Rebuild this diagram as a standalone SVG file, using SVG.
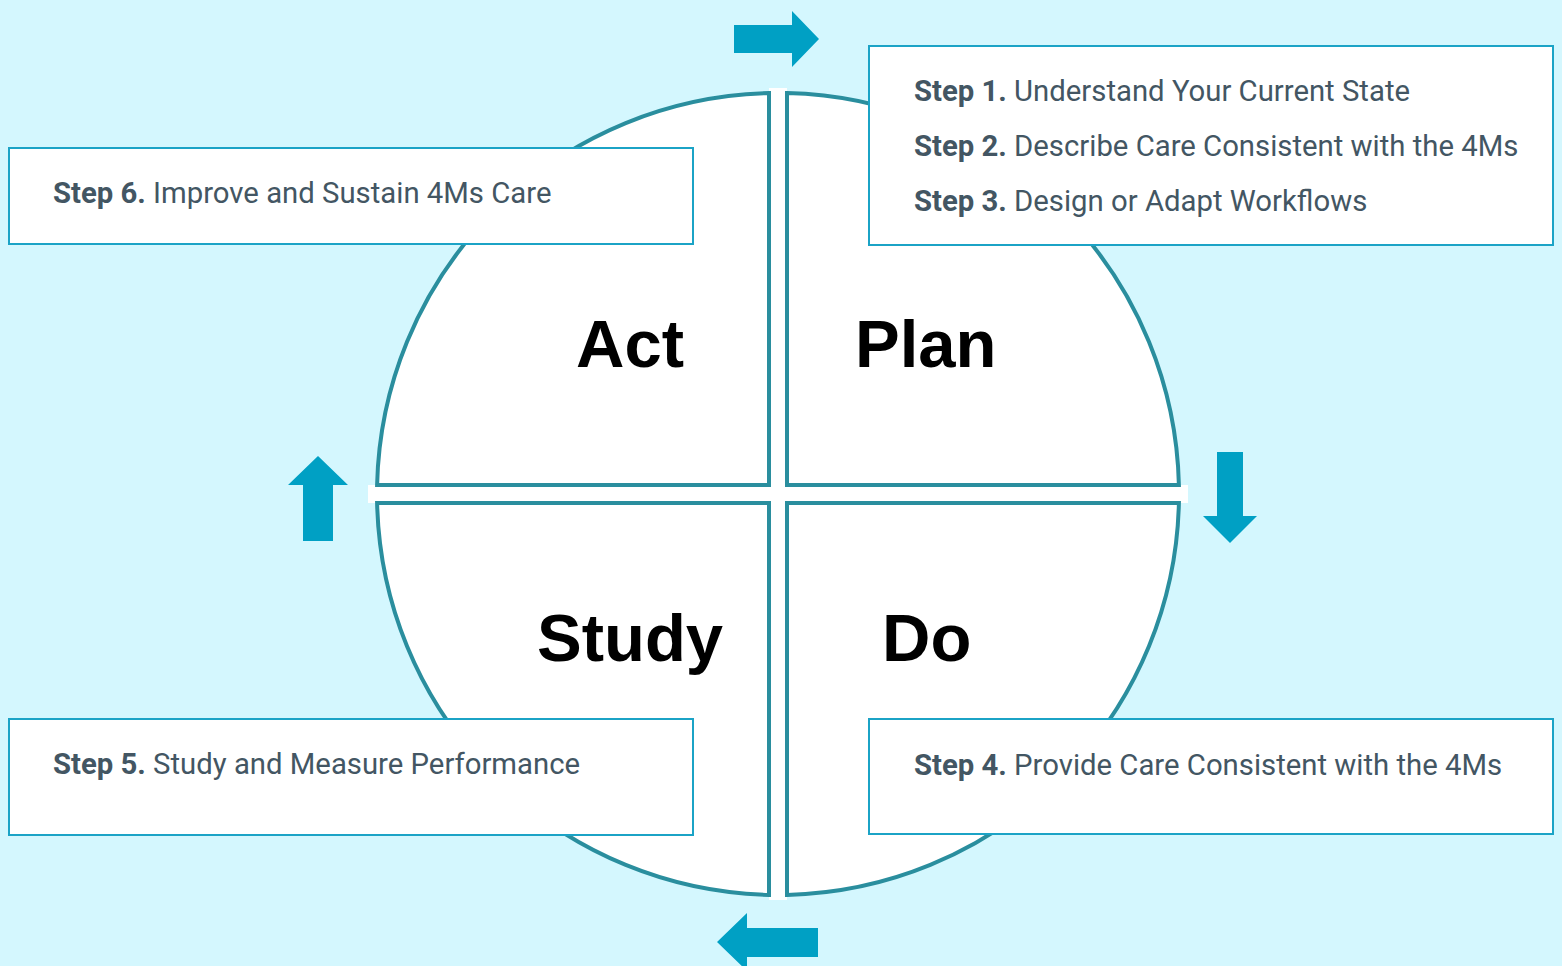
<svg xmlns="http://www.w3.org/2000/svg" width="1562" height="966" viewBox="0 0 1562 966">
<style>
.q{fill:#ffffff;stroke:#2a8e9e;stroke-width:4}
.arr{fill:#00a0c4}
.box{fill:#ffffff;stroke:#1ba3c6;stroke-width:2}
.st{font-family:Roboto,"Liberation Sans",sans-serif;font-size:29.3px;fill:#435663}
.st .b{font-weight:bold}
.big{font-family:"Liberation Sans",Arial,sans-serif;font-weight:bold;font-size:67px;fill:#000000}
</style>
<rect x="0" y="0" width="1562" height="966" fill="#d4f7fe"/>
<g id="cycle">
<rect x="769" y="88" width="18" height="812" fill="#ffffff"/>
<rect x="368" y="485" width="820" height="18" fill="#ffffff"/>
<g id="act"><path class="q" d="M769,485 L769,93.1 A401,401 0 0 0 377.1,485 Z"/><text class="big" x="576" y="367">Act</text></g>
<g id="plan"><path class="q" d="M787,485 L787,93.1 A401,401 0 0 1 1178.9,485 Z"/><text class="big" x="855" y="367">Plan</text></g>
<g id="study"><path class="q" d="M769,503 L769,894.9 A401,401 0 0 1 377.1,503 Z"/><text class="big" x="537" y="661">Study</text></g>
<g id="do"><path class="q" d="M787,503 L787,894.9 A401,401 0 0 0 1178.9,503 Z"/><text class="big" x="882" y="661">Do</text></g>
</g>
<g id="connectors">
<path class="arr" d="M734,25 H792 V11 L819,39 L792,67 V53 H734 Z"/>
<path class="arr" d="M1217,452 H1243 V516 H1257 L1230,543 L1203,516 H1217 Z"/>
<path class="arr" d="M303,541 V485 H288 L318,456 L348,485 H333 V541 Z"/>
<path class="arr" d="M818,928 V957 H747 V971 L717,942 L747,913 V928 Z"/>
</g>
<g id="box-plan">
<rect class="box" x="869" y="46" width="684" height="199"/>
<text class="st" x="914" y="101"><tspan class="b">Step 1.</tspan> Understand Your Current State</text>
<text class="st" x="914" y="156"><tspan class="b">Step 2.</tspan> Describe Care Consistent with the 4Ms</text>
<text class="st" x="914" y="211"><tspan class="b">Step 3.</tspan> Design or Adapt Workflows</text>
</g>
<g id="box-act">
<rect class="box" x="9" y="148" width="684" height="96"/>
<text class="st" x="53" y="203"><tspan class="b">Step 6.</tspan> Improve and Sustain 4Ms Care</text>
</g>
<g id="box-study">
<rect class="box" x="9" y="719" width="684" height="116"/>
<text class="st" x="53" y="774"><tspan class="b">Step 5.</tspan> Study and Measure Performance</text>
</g>
<g id="box-do">
<rect class="box" x="869" y="719" width="684" height="115"/>
<text class="st" x="914" y="775"><tspan class="b">Step 4.</tspan> Provide Care Consistent with the 4Ms</text>
</g>
</svg>
